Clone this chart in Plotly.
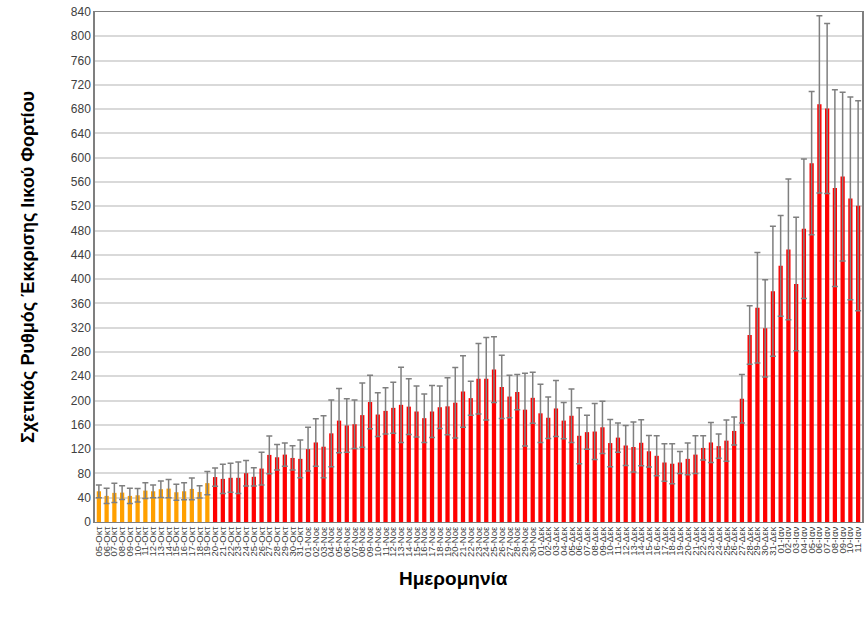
import plotly.graph_objects as go

oct_days = [f"{d:02d}-Οκτ" for d in range(5, 32)]
nov_days = [f"{d:02d}-Νοε" for d in range(1, 31)]
dec_days = [f"{d:02d}-Δεκ" for d in range(1, 32)]
jan_days = [f"{d:02d}-Ιαν" for d in range(1, 12)]
dates = oct_days + nov_days + dec_days + jan_days

oct_vals = [50.6, 43, 48, 48.4, 43, 44, 51.7, 50.6, 54, 55, 49, 50.6, 54.5, 49.5, 64,
            74, 71, 72.8, 72.8, 80.4, 74.4, 88, 110.5, 106.6, 111, 105.5, 104]
oct_err = [10.5, 12.5, 16, 11.5, 12.5, 11, 12.8, 10.5, 13.5, 15, 13, 14, 18, 10, 19,
           15, 24, 24, 26, 21, 15, 27, 31, 21, 19, 20, 31]
nov_vals = [120, 131, 124, 146, 167, 159, 161, 176, 197.6, 177, 183, 188, 193, 190, 182,
            171, 182, 189, 190.5, 196.5, 215, 204, 236, 236, 251, 222.5, 206.6, 214, 185, 204.5]
nov_err = [36, 39, 51, 55, 53, 44, 40, 53, 44, 36, 38, 42, 62, 46, 42,
           40, 43, 35, 47, 58, 59, 28, 58, 68, 54, 52, 35, 29, 60, 42]
dec_vals = [179, 171.7, 187, 167, 175, 142, 148, 149, 156, 130, 139, 126, 123.5, 130.5, 116.5,
            109, 98, 96, 98, 104, 111, 122, 131, 125, 134, 150, 203, 308, 353, 319, 380]
dec_err = [48, 34, 46, 30, 44, 46, 28, 46, 43, 39, 24, 33, 41, 38, 26,
           33, 31, 33, 18, 26, 31, 20, 33, 20, 34, 23, 40, 48, 91, 80, 107]
jan_vals = [422, 449, 392, 483, 591, 688, 681, 550, 569, 533, 521]
jan_err = [83, 116, 110, 115, 118, 146, 140, 162, 139, 167, 173]

values = oct_vals + nov_vals + dec_vals + jan_vals
errors = oct_err + nov_err + dec_err + jan_err

n_orange = 15  # 05-Οκτ .. 19-Οκτ
colors = ["#FFA000"] * n_orange + ["#FF0000"] * (len(values) - n_orange)

fig = go.Figure()
fig.add_trace(go.Bar(
    x=dates, y=values,
    marker=dict(color=colors, line=dict(width=0)),
    error_y=dict(type="data", array=errors, visible=True,
                 color="#7F7F7F", thickness=1.5, width=3),
    width=0.55,
))

fig.update_layout(
    width=868, height=623,
    margin=dict(l=95, r=6, t=12, b=101, autoexpand=False),
    paper_bgcolor="white", plot_bgcolor="white",
    showlegend=False,
    font=dict(family="Liberation Sans, Arial, sans-serif", color="#404040"),
)
fig.update_xaxes(
    type="category",
    tickmode="array", tickvals=dates, ticktext=dates,
    tickangle=-90, tickfont=dict(size=9.5, color="#404040"),
    showline=True, linecolor="#7F7F7F", linewidth=1, mirror=True,
    ticks="", showgrid=False, automargin=False, ticklabeloverflow="allow",
)
fig.update_yaxes(
    range=[0, 840], dtick=40, tick0=0,
    tickfont=dict(size=12, color="#404040"),
    showgrid=True, gridcolor="#D9D9D9", gridwidth=1.5,
    showline=True, linecolor="#7F7F7F", linewidth=1.5, mirror=True,
    ticks="", zeroline=False, automargin=False, ticklabeloverflow="allow",
    title=dict(text="<b>Σχετικός Ρυθμός Έκκρισης Ιικού Φορτίου</b>",
               font=dict(size=18, color="#000000"), standoff=32),
)
fig.add_annotation(
    text="<b>Ημερομηνία</b>", xref="paper", yref="paper",
    x=0.467, y=-0.11, xanchor="center", yanchor="middle",
    showarrow=False, font=dict(size=19, color="#000000"),
)

fig.write_html("out.html",
               config={"displayModeBar": False},
               post_script="document.body.style.margin='0';document.body.style.overflow='hidden';")
